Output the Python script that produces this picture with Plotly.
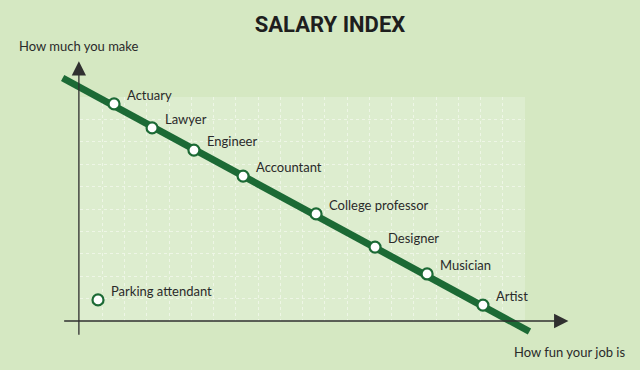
import plotly.graph_objects as go

# ---- data ----
jobs = ["Actuary", "Lawyer", "Engineer", "Accountant", "College professor",
        "Designer", "Musician", "Artist"]
fun_score = [1.53, 3.24, 5.12, 7.33, 10.61, 13.26, 15.60, 18.11]
salary_score = [9.69, 8.62, 7.63, 6.47, 4.78, 3.30, 2.10, 0.71]

outlier_jobs = ["Parking attendant"]
outlier_fun = [0.81]
outlier_salary = [0.94]

trend_fun = [-0.78, 20.2]
trend_salary = [10.85, -0.47]

title_text = "SALARY INDEX"
y_label = "How much you make"
x_label = "How fun your job is"

# ---- style ----
PAPER = "#d5e8c2"
GRIDBG = "#ddedcf"
GRIDLINE = "#eef6e6"
GREEN = "#1c6a35"
INK = "#2a2a2a"
W, H = 640, 370
GX0, GX1, GY0, GY1 = 80, 525, 97, 321
UX = (GX1 - GX0) / 20.0
UY = (GY1 - GY0) / 10.0

fig = go.Figure()

# empty trace so the grid panel (xy) is drawn
fig.add_trace(go.Scatter(x=[None], y=[None], xaxis="x", yaxis="y",
                         showlegend=False, hoverinfo="skip"))
# trend line and points on the full-figure data axes (x2y2)
fig.add_trace(go.Scatter(x=trend_fun, y=trend_salary, mode="lines",
                         line=dict(color=GREEN, width=7),
                         xaxis="x2", yaxis="y2", showlegend=False,
                         hoverinfo="skip"))
fig.add_trace(go.Scatter(x=fun_score, y=salary_score, mode="markers",
                         marker=dict(size=11, color="white",
                                     line=dict(color=GREEN, width=2.2)),
                         xaxis="x2", yaxis="y2", showlegend=False,
                         text=jobs, cliponaxis=False))
fig.add_trace(go.Scatter(x=outlier_fun, y=outlier_salary, mode="markers",
                         marker=dict(size=11, color="white",
                                     line=dict(color=GREEN, width=2.2)),
                         xaxis="x2", yaxis="y2", showlegend=False,
                         text=outlier_jobs, cliponaxis=False))

annotations = []
for name, fx, sy in list(zip(jobs, fun_score, salary_score)) + \
        list(zip(outlier_jobs, outlier_fun, outlier_salary)):
    annotations.append(dict(x=fx, y=sy, xref="x2", yref="y2", text=name,
                            showarrow=False, xanchor="left", yanchor="middle",
                            xshift=11, yshift=9,
                            font=dict(family="Lato, Open Sans, sans-serif",
                                      size=13, color=INK)))

# axes with arrowheads
annotations.append(dict(x=-0.05, y=11.6, xref="x2", yref="y2",
                        ax=-0.05, ay=-0.68, axref="x2", ayref="y2",
                        showarrow=True, arrowhead=2, arrowsize=2.2,
                        arrowwidth=1.3, arrowcolor="#303030", text=""))
annotations.append(dict(x=21.95, y=0.0, xref="x2", yref="y2",
                        ax=-0.78, ay=0.0, axref="x2", ayref="y2",
                        showarrow=True, arrowhead=2, arrowsize=2.2,
                        arrowwidth=1.3, arrowcolor="#303030", text=""))

annotations.append(dict(x=17 / W, y=1 - 46 / H, xref="paper", yref="paper",
                        text=y_label, showarrow=False, xanchor="left",
                        yanchor="middle",
                        font=dict(family="Lato, Open Sans, sans-serif",
                                  size=13, color=INK)))
annotations.append(dict(x=627 / W, y=1 - 352 / H, xref="paper", yref="paper",
                        text=x_label, showarrow=False, xanchor="right",
                        yanchor="middle",
                        font=dict(family="Lato, Open Sans, sans-serif",
                                  size=13, color=INK)))

fig.update_layout(
    width=W, height=H,
    margin=dict(l=0, r=0, t=0, b=0),
    paper_bgcolor=PAPER,
    plot_bgcolor="rgba(0,0,0,0)",
    title=dict(text=title_text, x=330 / W, y=1 - 24 / H,
               xanchor="center", yanchor="middle",
               font=dict(family="Roboto, sans-serif",
                         size=22, color="#1e1e1e", weight="bold")),
    xaxis=dict(domain=[GX0 / W, GX1 / W], range=[0, 20], dtick=1,
               showgrid=True, griddash="dot", gridcolor=GRIDLINE, gridwidth=1,
               showticklabels=False, zeroline=False, showline=False,
               ticks="", anchor="y", fixedrange=True),
    yaxis=dict(domain=[1 - GY1 / H, 1 - GY0 / H], range=[0, 10], dtick=1,
               showgrid=True, griddash="dot", gridcolor=GRIDLINE, gridwidth=1,
               showticklabels=False, zeroline=False, showline=False,
               ticks="", anchor="x", fixedrange=True),
    xaxis2=dict(domain=[0, 1], range=[-GX0 / UX, (W - GX0) / UX],
                visible=False, anchor="y2", fixedrange=True),
    yaxis2=dict(domain=[0, 1], range=[-(H - GY1) / UY, GY1 / UY],
                visible=False, anchor="x2", fixedrange=True),
    shapes=[dict(type="rect", xref="x", yref="y", x0=0, x1=20, y0=0, y1=10,
                 fillcolor=GRIDBG, line=dict(width=0), layer="below")],
    annotations=annotations,
    showlegend=False,
)

fig.write_html("out.html", config={"displayModeBar": False},
               post_script="document.body.style.margin='0';document.body.style.padding='0';")
